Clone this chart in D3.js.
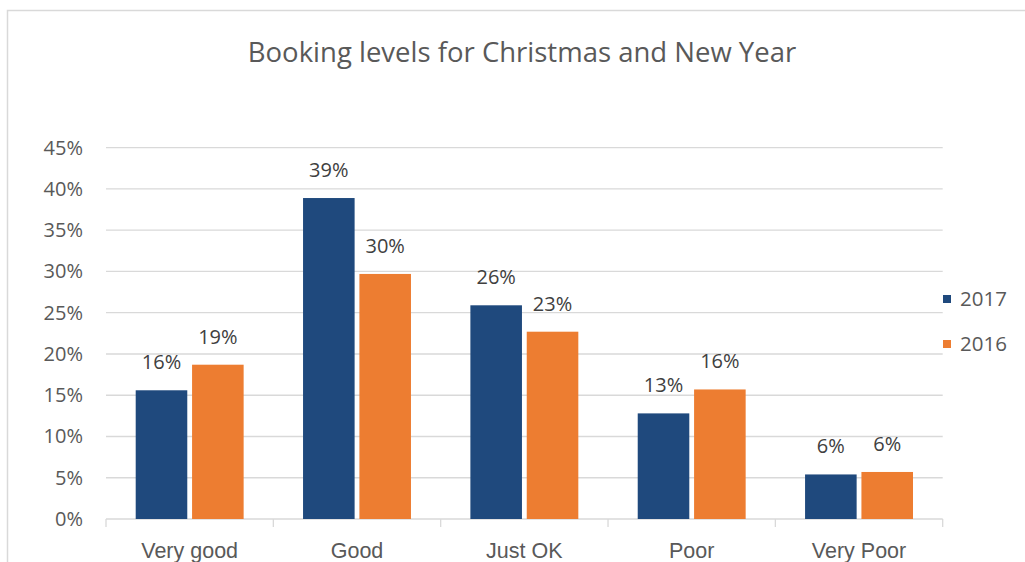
<!DOCTYPE html>
<html>
<head>
<meta charset="utf-8">
<script src="https://cdn.jsdelivr.net/npm/d3@7"></script>
<style>
  body { margin: 0; background: #fff; }
  svg { display: block; font-family: "Open Sans", Lato, sans-serif; }
</style>
</head>
<body>
<svg id="chart" width="1025" height="562"></svg>
<script>
const categories = ["Very good", "Good", "Just OK", "Poor", "Very Poor"];
const seriesNames = ["2017", "2016"];
const values2017 = [15.6, 38.9, 25.9, 12.8, 5.4];
const values2016 = [18.7, 29.7, 22.7, 15.7, 5.7];
const labels2017 = ["16%", "39%", "26%", "13%", "6%"];
const labels2016 = ["19%", "30%", "23%", "16%", "6%"];
const yTicks = [0, 5, 10, 15, 20, 25, 30, 35, 40, 45];
const colors = ["#1F497D", "#ED7D31"];

const margin = {top: 147.7, left: 106, right: 82.3, bottom: 43};
const width = 1025 - margin.left - margin.right;
const height = 562 - margin.top - margin.bottom;

const svg = d3.select("#chart");

// outer chart border
svg.append("rect")
  .attr("x", 7.5)
  .attr("y", 10.5)
  .attr("width", 1030)
  .attr("height", 570)
  .attr("fill", "none")
  .attr("stroke", "#D9D9D9")
  .attr("stroke-width", 1.5);

svg.append("text")
  .attr("x", 522)
  .attr("y", 61.5)
  .attr("text-anchor", "middle")
  .attr("fill", "#595959")
  .attr("font-size", "27.5px")
  .text("Booking levels for Christmas and New Year");

const g = svg.append("g")
  .attr("transform", `translate(${margin.left},${margin.top})`);

const x0 = d3.scaleBand()
  .domain(categories)
  .range([0, width])
  .paddingInner(0.355)
  .paddingOuter(0.1775);

const x1 = d3.scaleBand()
  .domain(seriesNames)
  .range([0, x0.bandwidth()])
  .paddingInner(0.085);

const y = d3.scaleLinear()
  .domain([0, 45])
  .range([height, 0]);

// gridlines
g.append("g")
  .selectAll("line")
  .data(yTicks.filter(d => d > 0))
  .join("line")
  .attr("x1", 0)
  .attr("x2", width)
  .attr("y1", d => y(d))
  .attr("y2", d => y(d))
  .attr("stroke", "#D9D9D9")
  .attr("stroke-width", 1.3);

// y tick labels
g.append("g")
  .selectAll("text")
  .data(yTicks)
  .join("text")
  .attr("x", -23)
  .attr("y", d => y(d))
  .attr("dy", "0.35em")
  .attr("text-anchor", "end")
  .attr("fill", "#595959")
  .attr("font-size", "20px")
  .text(d => d + "%");

// x axis
const xAxis = g.append("g")
  .attr("transform", `translate(0,${height})`)
  .call(d3.axisBottom(x0).tickSize(0).tickFormat(""));
xAxis.select(".domain").remove();

xAxis.append("line")
  .attr("x1", 0)
  .attr("x2", width)
  .attr("stroke", "#D9D9D9")
  .attr("stroke-width", 1.3);

xAxis.selectAll(".sep")
  .data(d3.range(categories.length + 1))
  .join("line")
  .attr("class", "sep")
  .attr("x1", i => i * x0.step())
  .attr("x2", i => i * x0.step())
  .attr("y1", 0)
  .attr("y2", 8)
  .attr("stroke", "#D9D9D9")
  .attr("stroke-width", 1.3);

xAxis.selectAll(".cat")
  .data(categories)
  .join("text")
  .attr("class", "cat")
  .attr("x", d => x0(d) + x0.bandwidth() / 2)
  .attr("y", 38.5)
  .attr("text-anchor", "middle")
  .attr("fill", "#595959")
  .attr("font-size", "21.5px")
  .text(d => d);

const rows = categories.map((c, i) => ({
  category: c,
  items: [
    {series: "2017", value: values2017[i], label: labels2017[i], color: colors[0]},
    {series: "2016", value: values2016[i], label: labels2016[i], color: colors[1]}
  ]
}));

const groups = g.selectAll(".cat-group")
  .data(rows)
  .join("g")
  .attr("class", "cat-group")
  .attr("transform", d => `translate(${x0(d.category)},0)`);

groups.selectAll("rect")
  .data(d => d.items)
  .join("rect")
  .attr("x", d => x1(d.series))
  .attr("y", d => y(d.value))
  .attr("width", x1.bandwidth())
  .attr("height", d => height - y(d.value))
  .attr("fill", d => d.color);

groups.selectAll(".val")
  .data(d => d.items)
  .join("text")
  .attr("class", "val")
  .attr("x", d => x1(d.series) + x1.bandwidth() / 2)
  .attr("y", d => y(d.value) - 21)
  .attr("text-anchor", "middle")
  .attr("fill", "#404040")
  .attr("font-size", "20px")
  .text(d => d.label);

// legend
const legend = svg.append("g")
  .selectAll("g")
  .data(seriesNames)
  .join("g")
  .attr("transform", (d, i) => `translate(943,${299 + i * 45})`);

legend.append("rect")
  .attr("x", 0)
  .attr("y", -4)
  .attr("width", 8)
  .attr("height", 8)
  .attr("fill", (d, i) => colors[i]);

legend.append("text")
  .attr("x", 17)
  .attr("y", 0)
  .attr("dy", "0.35em")
  .attr("fill", "#595959")
  .attr("font-size", "20.5px")
  .text(d => d);
</script>
</body>
</html>
